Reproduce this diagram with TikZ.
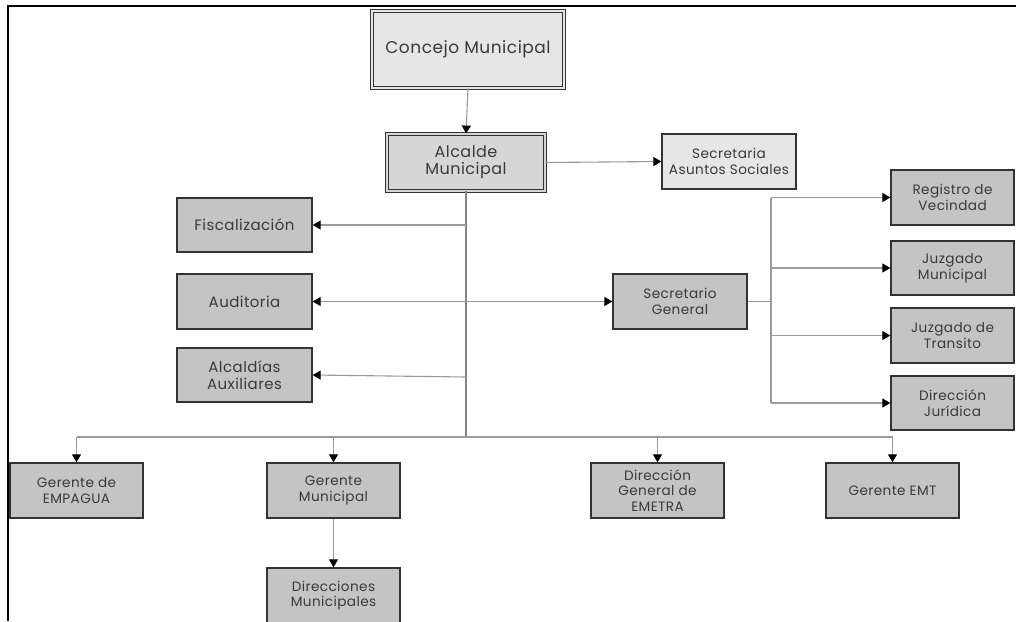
\documentclass[tikz,border=0pt]{standalone}
\usepackage{fontspec}
\setmainfont{Poppins}[LetterSpace=3]
\usetikzlibrary{arrows.meta}
\definecolor{txt}{HTML}{3A3A3A}
\definecolor{edge}{HTML}{333333}
\definecolor{lite}{HTML}{E6E6E6}
\definecolor{mid}{HTML}{D6D6D6}
\definecolor{dark}{HTML}{C4C4C4}
\definecolor{conn}{HTML}{9A9A9A}
\tikzset{
  unitbox/.style={draw=edge, line width=1.3pt, fill=dark, text=txt, align=center,
    minimum width=134pt, minimum height=55pt, inner sep=0pt,
    font=\fontsize{13.6}{15.8}\selectfont},
  topbox/.style={unitbox, draw=edge, line width=0.9pt, double=lite, double distance=1.6pt},
  link/.style={draw=conn, line width=1.1pt},
  arr/.style={link, -{Triangle[length=8pt,width=9pt,fill=black,color=black]}},
  biarr/.style={link, {Triangle[length=8pt,width=9pt,fill=black,color=black]}-{Triangle[length=8pt,width=9pt,fill=black,color=black]}},
}
\begin{document}
\begin{tikzpicture}[x=1pt,y=-1pt]
\useasboundingbox (0,0) rectangle (1016,621);
\clip (0,0) rectangle (1016,621);
\fill[white] (0,0) rectangle (1016,621);
% frame
\draw[black, line width=2pt] (8,621) -- (8,6) -- (1016,6);

% nodes
\node[topbox, fill=lite, minimum width=192pt, minimum height=77pt, font=\fontsize{17}{20}\selectfont] (concejo) at (468,49.5) {Concejo Municipal};
\node[topbox, fill=mid, double=mid, minimum width=158pt, minimum height=57pt, font=\fontsize{16}{17}\selectfont] (alcalde) at (466,162.5) {Alcalde\\Municipal};
\node[unitbox, fill=lite] (sas) at (729,161.5) {Secretaria\\Asuntos Sociales};
\node[unitbox, minimum width=135pt, minimum height=54pt, font=\fontsize{15}{17}\selectfont] (fisc) at (244.5,225) {Fiscalización};
\node[unitbox, minimum width=135pt, font=\fontsize{15}{17}\selectfont] (audit) at (244.5,301.5) {Auditoria};
\node[unitbox, minimum width=135pt, minimum height=54pt, font=\fontsize{15}{17}\selectfont] (alcaux) at (244.5,375) {Alcaldías\\Auxiliares};
\node[unitbox] (secgen) at (680,301.5) {Secretario\\General};
\node[unitbox, minimum width=123pt] (regvec) at (952.5,197.5) {Registro de\\Vecindad};
\node[unitbox, minimum width=123pt, minimum height=54pt] (juzmun) at (952.5,268) {Juzgado\\Municipal};
\node[unitbox, minimum width=123pt] (juztra) at (952.5,335.5) {Juzgado de\\Transito};
\node[unitbox, minimum width=123pt, minimum height=54pt] (dirjur) at (952.5,403) {Dirección\\Jurídica};
\node[unitbox, minimum width=133pt] (empagua) at (76.5,490.5) {Gerente de\\EMPAGUA};
\node[unitbox, minimum width=133pt] (germun) at (333.5,490.5) {Gerente\\Municipal};
\node[unitbox, minimum width=133pt] (emetra) at (657.5,490.5) {Dirección\\General de\\EMETRA};
\node[unitbox, minimum width=133pt] (emt) at (892.5,490.5) {Gerente EMT};
\node[unitbox, minimum width=133pt] (dirmun) at (333.5,595.5) {Direcciones\\Municipales};

% subtle light streaks inside some boxes
\draw[white, line width=0.6pt, opacity=0.8] ([xshift=3pt,yshift=-12pt]audit.south west) -- ([xshift=-3pt,yshift=-12pt]audit.south east);
\draw[white, line width=0.6pt, opacity=0.8] ([xshift=3pt,yshift=-11pt]secgen.south west) -- ([xshift=-3pt,yshift=-11pt]secgen.south east);
\draw[white, line width=0.6pt, opacity=0.8] ([xshift=3pt,yshift=-4pt]alcaux.south west) -- ([xshift=-3pt,yshift=-4pt]alcaux.south east);
\draw[white, line width=0.6pt, opacity=0.8] ([xshift=3pt,yshift=4pt]dirjur.north west) -- ([xshift=-1pt,yshift=4pt]dirjur.north east);
\foreach \d in {6,13,20,27,34,41,48}
  \draw[white, line width=0.5pt, opacity=0.6] ([xshift=2pt,yshift=\d pt]dirmun.north west) -- ([xshift=-2pt,yshift=\d pt]dirmun.north east);

% coordinates
\coordinate (tbot) at (466,437);
\coordinate (tfis) at (466,225);
\coordinate (talc) at (466,377);
\coordinate (bl) at (76.5,437);
\coordinate (br) at (892.5,437);
\coordinate (bgm) at (333.5,437);
\coordinate (bem) at (657.5,437);
\coordinate (sgj) at (771,301.5);
\coordinate (sgt) at (771,197.5);
\coordinate (sgb) at (771,403);
\coordinate (sgm) at (771,268);
\coordinate (sgtr) at (771,335.5);

% connectors
\draw[arr] (concejo.south) -- (alcalde.north);
\draw[arr] (alcalde.east) -- (sas.west);
\draw[link, draw=conn!85!black] (alcalde.south) -- (tbot);
\draw[arr] (tfis) -- (fisc.east);
\draw[arr] (talc) -- (alcaux.east);
\draw[biarr] (audit.east) -- (secgen.west);
\draw[link] (secgen.east) -- (sgj);
\draw[link] (sgt) -- (sgb);
\draw[arr] (sgt) -- (regvec.west);
\draw[arr] (sgm) -- (juzmun.west);
\draw[arr] (sgtr) -- (juztra.west);
\draw[arr] (sgb) -- (dirjur.west);
\draw[link] (bl) -- (br);
\draw[arr] (bl) -- (empagua.north);
\draw[arr] (bgm) -- (germun.north);
\draw[arr] (bem) -- (emetra.north);
\draw[arr] (br) -- (emt.north);
\draw[arr] (germun.south) -- (dirmun.north);
\end{tikzpicture}
\end{document}
